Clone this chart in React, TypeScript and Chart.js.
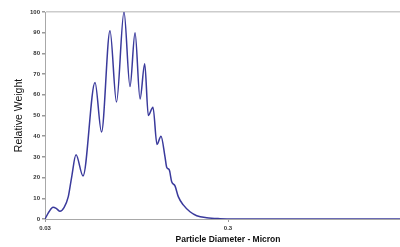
import React, { useEffect, useRef } from "react";
import { Chart, registerables } from "chart.js";
Chart.register(...registerables);

const diameters = [
  0.03, 0.03155, 0.03318, 0.03467, 0.03623, 0.0381, 0.04022, 0.04198, 0.04432,
  0.0484, 0.05629, 0.06109, 0.06797, 0.07377,
  0.08106, 0.08742, 0.09314, 0.09919, 0.1052,
  0.1101, 0.1167, 0.1228, 0.1291, 0.1358,
  0.1387, 0.1433, 0.1477, 0.154, 0.1605, 0.1709, 0.186, 0.2024, 0.2295, 0.2712,
  0.3276, 0.742, 3.0,
];
const weights = [
  0, 3.5, 5.7, 5.0, 3.7, 5.5, 10.8, 20.4, 31,
  20.8, 66, 42, 91, 56.5,
  100, 64, 90, 58, 75,
  50, 54, 36, 40, 30,
  25, 23.7, 18, 16, 10.8, 6.8, 3.5, 1.6, 0.6, 0.15,
  0, 0, 0,
];
const xTickValues = [0.03, 0.3];
const yTickValues = [0, 10, 20, 30, 40, 50, 60, 70, 80, 90, 100];
const xTitle = "Particle Diameter - Micron";
const yTitle = "Relative Weight";

const FONT = "'Liberation Sans', Arial, Helvetica, sans-serif";

export default function App() {
  const ref = useRef<HTMLCanvasElement>(null);
  useEffect(() => {
    document.documentElement.style.overflow = "hidden";
    document.body.style.overflow = "hidden";
    document.body.style.margin = "0";
    const chart = new Chart(ref.current as HTMLCanvasElement, {
      type: "line",
      data: {
        datasets: [
          {
            data: diameters.map((d, i) => ({ x: d, y: weights[i] })),
            borderColor: "#3a3a9c",
            borderWidth: 1.5,
            pointRadius: 0,
            cubicInterpolationMode: "monotone",
            fill: false,
          },
        ],
      },
      options: {
        animation: false,
        responsive: false,
        maintainAspectRatio: false,
        layout: { padding: { top: 12, right: 0, left: 0, bottom: 0 } },
        plugins: { legend: { display: false }, tooltip: { enabled: false } },
        scales: {
          x: {
            type: "logarithmic",
            min: 0.03,
            max: 3,
            afterBuildTicks: (s: any) => {
              s.ticks = xTickValues.map((v) => ({ value: v }));
            },
            afterFit: (s: any) => {
              s.height = 28;
            },
            ticks: {
              callback: (v: any) => String(v),
              font: { family: FONT, size: 6, weight: "bold" },
              color: "#333",
              padding: 3,
              maxRotation: 0,
              autoSkip: false,
            },
            grid: { drawOnChartArea: false, tickLength: 3, tickColor: "#999" },
            border: { color: "#a8a8a8", width: 1 },
            title: {
              display: true,
              text: xTitle,
              font: { family: FONT, size: 8.5, weight: "bold" },
              color: "#111",
              padding: { top: 0, bottom: 2 },
            },
          },
          y: {
            type: "linear",
            min: 0,
            max: 100,
            afterBuildTicks: (s: any) => {
              s.ticks = yTickValues.map((v) => ({ value: v }));
            },
            afterFit: (s: any) => {
              s.width = 45;
            },
            ticks: {
              font: { family: FONT, size: 6, weight: "bold" },
              color: "#333",
              padding: 2,
            },
            grid: {
              color: (c: any) => (c.tick && c.tick.value === 100 ? "#cccccc" : "rgba(0,0,0,0)"),
              lineWidth: 1.5,
              tickLength: 3,
              tickColor: "#999",
            },
            border: { color: "#a8a8a8", width: 1 },
            title: {
              display: true,
              text: yTitle,
              font: { family: FONT, size: 10.5, weight: "normal" },
              color: "#111",
              padding: { top: 13, bottom: 0 },
            },
          },
        },
      },
    });
    return () => chart.destroy();
  }, []);
  return (
    <div style={{ position: "absolute", left: 0, top: 0, width: 411, height: 247, background: "#fff" }}>
      <canvas ref={ref} width={411} height={247} style={{ display: "block", width: 411, height: 247 }} />
    </div>
  );
}
